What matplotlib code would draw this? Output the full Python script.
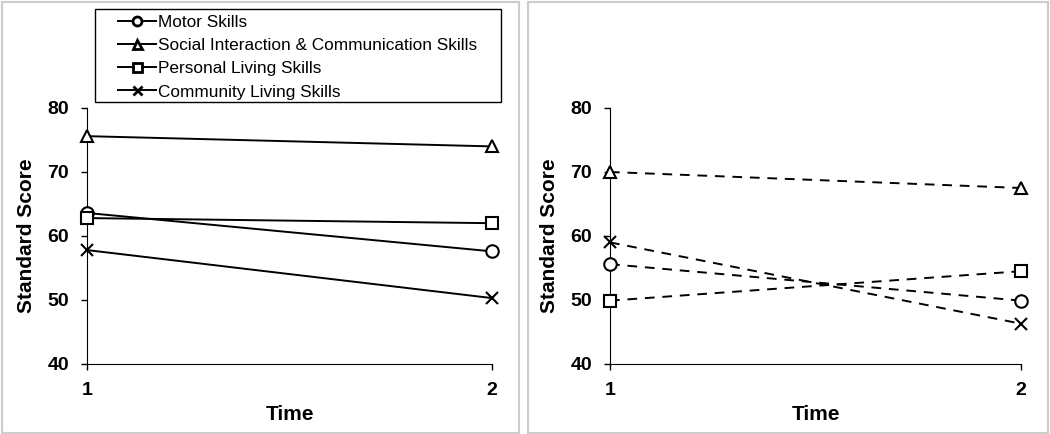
import matplotlib
matplotlib.use("Agg")

import matplotlib.pyplot as plt
from matplotlib.patches import Rectangle

plt.rcParams["font.family"] = ["Liberation Sans", "DejaVu Sans"]

TIMES = [1, 2]
SERIES = [
    "Motor Skills",
    "Social Interaction & Communication Skills",
    "Personal Living Skills",
    "Community Living Skills",
]
MARKERS = ["o", "^", "s", "x"]

# Left panel (solid lines)
LEFT_MOTOR = [63.6, 57.6]
LEFT_SOCIAL = [75.6, 74.0]
LEFT_PERSONAL = [62.8, 62.0]
LEFT_COMMUNITY = [57.8, 50.3]

# Right panel (dashed lines)
RIGHT_MOTOR = [55.6, 49.9]
RIGHT_SOCIAL = [70.0, 67.5]
RIGHT_PERSONAL = [49.9, 54.5]
RIGHT_COMMUNITY = [59.0, 46.3]

W, H = 1050, 434
fig = plt.figure(figsize=(W / 100, H / 100), dpi=100)


def fig_rect(x0, y0, x1, y1, color, lw):
    # pixel box (top-left origin) -> figure-coords rectangle
    fig.patches.append(Rectangle((x0 / W, 1 - y1 / H), (x1 - x0) / W, (y1 - y0) / H,
                                 transform=fig.transFigure, fill=False,
                                 edgecolor=color, linewidth=lw, zorder=0))


# light grey panel frames
fig_rect(1.5, 1.5, 519, 432.5, "#cccccc", 1.5)
fig_rect(528, 1.5, 1048, 432.5, "#cccccc", 1.5)


def draw_panel(ax, data, style):
    handles = []
    for vals, name, m in zip(data, SERIES, MARKERS):
        h, = ax.plot(TIMES, vals, linestyle=style, color="black", linewidth=1.4,
                     marker=m, markersize=9, markerfacecolor="white",
                     markeredgecolor="black", markeredgewidth=1.5,
                     label=name, clip_on=False, zorder=3)
        handles.append(h)
    ax.set_xlim(1, 2)
    ax.set_ylim(40, 80)
    ax.set_xticks(TIMES)
    ax.set_yticks([40, 50, 60, 70, 80])
    ax.spines["top"].set_visible(False)
    ax.spines["right"].set_visible(False)
    ax.tick_params(direction="out", length=4, width=1, labelsize=14, pad=9)
    for lbl in ax.get_xticklabels() + ax.get_yticklabels():
        lbl.set_fontweight("bold")
    ax.set_xlabel("Time", fontsize=15, fontweight="bold", labelpad=4)
    ax.set_ylabel("Standard Score", fontsize=15, fontweight="bold", labelpad=8)
    return handles


ax1 = fig.add_axes([87 / W, 1 - 364 / H, (492 - 87) / W, (364 - 108) / H])
ax2 = fig.add_axes([610 / W, 1 - 364 / H, (1021 - 610) / W, (364 - 108) / H])

handles = draw_panel(ax1, [LEFT_MOTOR, LEFT_SOCIAL, LEFT_PERSONAL, LEFT_COMMUNITY], "-")
draw_panel(ax2, [RIGHT_MOTOR, RIGHT_SOCIAL, RIGHT_PERSONAL, RIGHT_COMMUNITY], (0, (5, 4)))

# legend frame drawn separately, entries placed inside
fig_rect(94.5, 8.5, 500.5, 101.5, "black", 1.0)
leg = fig.legend(handles=handles, loc="upper left",
                 bbox_to_anchor=(118 / W, 1 - 15 / H),
                 fontsize=12.4, frameon=False,
                 handlelength=2.2, handletextpad=0.15, borderpad=0,
                 labelspacing=0.47, borderaxespad=0, markerscale=0.72)
for h in leg.legend_handles:
    h.set_markeredgewidth(2.0)

fig.savefig("out.png", dpi=100)
